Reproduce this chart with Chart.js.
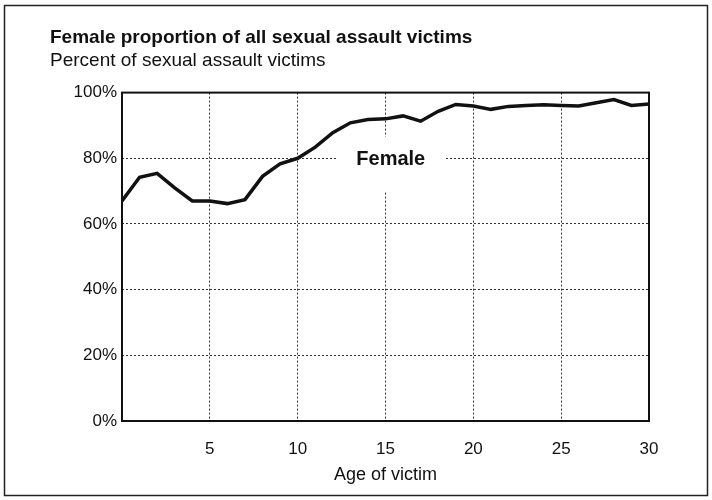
<!DOCTYPE html>
<html>
<head>
<meta charset="utf-8">
<script src="https://cdn.jsdelivr.net/npm/chart.js@4"></script>
<style>
  body { margin: 0; background: #fff; }
  #wrap { width: 712px; height: 500px; }
</style>
</head>
<body>
<div id="wrap"><canvas id="myChart" width="712" height="500"></canvas></div>
<script>
var ages = [0, 1, 2, 3, 4, 5, 6, 7, 8, 9, 10, 11, 12, 13, 14, 15, 16, 17, 18, 19, 20, 21, 22, 23, 24, 25, 26, 27, 28, 29, 30];
var femalePct = [67, 74.2, 75.4, 71, 67, 67, 66.2, 67.4, 74.5, 78.3, 80, 83.4, 87.8, 90.8, 91.8, 92, 92.9, 91.3, 94.3, 96.4, 95.9, 94.9, 95.8, 96.1, 96.3, 96.1, 95.9, 96.9, 97.9, 96.1, 96.5];
var xTicks = [5, 10, 15, 20, 25, 30];
var yTicks = [0, 20, 40, 60, 80, 100];
var seriesLabel = 'Female';
var seriesLabelAt = { x: 15.3, y: 79.5 };

var font = "'Liberation Sans', Arial, sans-serif";

// frame round the picture, plot box, and the in-chart series label
var extras = {
    id: 'extras',
    beforeDraw: function (chart) {
        var c = chart.ctx;
        c.save();
        c.fillStyle = '#fff';
        c.fillRect(0, 0, chart.width, chart.height);
        c.strokeStyle = '#222';
        c.lineWidth = 1.5;
        c.strokeRect(4.5, 5.5, 703, 490);
        c.restore();
    },
    afterDatasetsDraw: function (chart) {
        var c = chart.ctx, a = chart.chartArea;
        var px = chart.scales.x.getPixelForValue(seriesLabelAt.x);
        var py = chart.scales.y.getPixelForValue(seriesLabelAt.y);
        c.save();
        c.strokeStyle = '#111';
        c.lineWidth = 2;
        c.strokeRect(a.left, a.top, a.right - a.left, a.bottom - a.top);
        c.font = 'bold 20px ' + font;
        var w = c.measureText(seriesLabel).width;
        c.fillStyle = '#fff';
        c.fillRect(px - w / 2 - 20, py - 23, w + 40, 54);
        c.fillStyle = '#111';
        c.textAlign = 'center';
        c.textBaseline = 'middle';
        c.fillText(seriesLabel, px, py);
        c.restore();
    }
};

var ctx = document.getElementById('myChart').getContext('2d');
var myChart = new Chart(ctx, {
    type: 'line',
    data: {
        datasets: [{
            label: seriesLabel,
            data: ages.map(function (a, i) { return { x: a, y: femalePct[i] }; }),
            borderColor: '#111',
            borderWidth: 3.5,
            pointRadius: 0,
            tension: 0,
            fill: false
        }]
    },
    options: {
        responsive: false,
        animation: false,
        layout: { padding: { left: 50, right: 63, top: 0, bottom: 14 } },
        plugins: {
            legend: { display: false },
            tooltip: { enabled: false },
            title: {
                display: true,
                text: 'Female proportion of all sexual assault victims',
                align: 'start',
                color: '#111',
                font: { family: font, size: 19, weight: 'bold' },
                padding: { top: 26, bottom: 1 }
            },
            subtitle: {
                display: true,
                text: 'Percent of sexual assault victims',
                align: 'start',
                color: '#111',
                font: { family: font, size: 19 },
                padding: { top: 0, bottom: 20 }
            }
        },
        scales: {
            x: {
                type: 'linear',
                min: 0,
                max: 30,
                afterBuildTicks: function (s) { s.ticks = [0].concat(xTicks).map(function (v) { return { value: v }; }); },
                afterFit: function (s) { s.height = 65; },
                ticks: {
                    color: '#111',
                    padding: 18,
                    font: { family: font, size: 17 },
                    callback: function (v) { return v === 0 ? '' : v; }
                },
                grid: { color: '#333', lineWidth: 1, drawTicks: false },
                border: { display: false, dash: [2, 2] },
                title: {
                    display: true,
                    text: 'Age of victim',
                    color: '#111',
                    font: { family: font, size: 18 },
                    padding: { top: 0, bottom: 0 }
                }
            },
            y: {
                min: 0,
                max: 100,
                afterBuildTicks: function (s) { s.ticks = yTicks.map(function (v) { return { value: v }; }); },
                afterFit: function (s) { s.width = 72; },
                ticks: {
                    color: '#111',
                    padding: 5,
                    font: { family: font, size: 17 },
                    callback: function (v) { return v + '%'; }
                },
                grid: { color: '#333', lineWidth: 1, drawTicks: false },
                border: { display: false, dash: [2, 2] }
            }
        }
    },
    plugins: [extras]
});
</script>
</body>
</html>
